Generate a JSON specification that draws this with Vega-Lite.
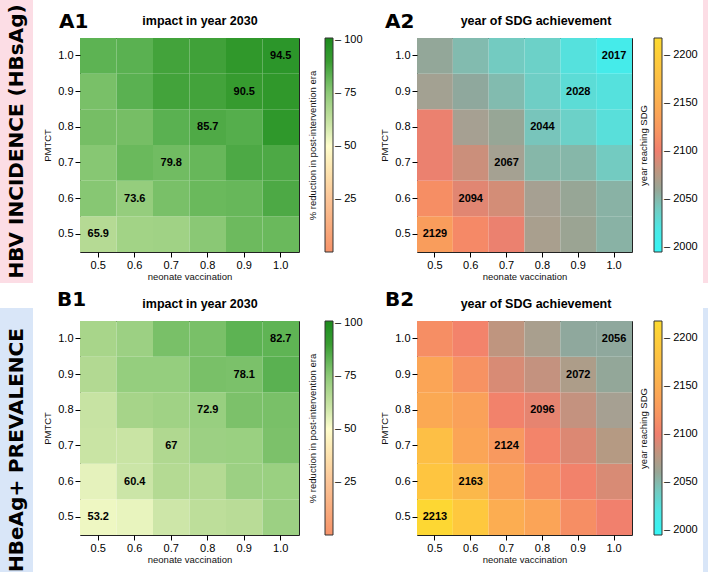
{
  "$schema": "https://vega.github.io/schema/vega-lite/v6.json",
  "padding": 0,
  "background": "white",
  "datasets": {
    "A1": [
      {"nv":"0.5","pm":"0.5","v":65.9,"lab":"65.9"},{"nv":"0.6","pm":"0.5","v":70.5},{"nv":"0.7","pm":"0.5","v":71},{"nv":"0.8","pm":"0.5","v":75.5},{"nv":"0.9","pm":"0.5","v":80.5},{"nv":"1.0","pm":"0.5","v":81},
      {"nv":"0.5","pm":"0.6","v":76},{"nv":"0.6","pm":"0.6","v":73.6,"lab":"73.6"},{"nv":"0.7","pm":"0.6","v":78.5},{"nv":"0.8","pm":"0.6","v":81},{"nv":"0.9","pm":"0.6","v":81.5},{"nv":"1.0","pm":"0.6","v":86},
      {"nv":"0.5","pm":"0.7","v":76},{"nv":"0.6","pm":"0.7","v":81},{"nv":"0.7","pm":"0.7","v":79.8,"lab":"79.8"},{"nv":"0.8","pm":"0.7","v":81.5},{"nv":"0.9","pm":"0.7","v":86},{"nv":"1.0","pm":"0.7","v":86},
      {"nv":"0.5","pm":"0.8","v":79},{"nv":"0.6","pm":"0.8","v":79},{"nv":"0.7","pm":"0.8","v":83.5},{"nv":"0.8","pm":"0.8","v":85.7,"lab":"85.7"},{"nv":"0.9","pm":"0.8","v":84.5},{"nv":"1.0","pm":"0.8","v":93},
      {"nv":"0.5","pm":"0.9","v":78.5},{"nv":"0.6","pm":"0.9","v":83.5},{"nv":"0.7","pm":"0.9","v":88},{"nv":"0.8","pm":"0.9","v":88},{"nv":"0.9","pm":"0.9","v":90.5,"lab":"90.5"},{"nv":"1.0","pm":"0.9","v":92.5},
      {"nv":"0.5","pm":"1.0","v":83},{"nv":"0.6","pm":"1.0","v":83.5},{"nv":"0.7","pm":"1.0","v":88},{"nv":"0.8","pm":"1.0","v":88.5},{"nv":"0.9","pm":"1.0","v":92.5},{"nv":"1.0","pm":"1.0","v":94.5,"lab":"94.5"}
    ],
    "B1": [
      {"nv":"0.5","pm":"0.5","v":53.2,"lab":"53.2"},{"nv":"0.6","pm":"0.5","v":54.5},{"nv":"0.7","pm":"0.5","v":60},{"nv":"0.8","pm":"0.5","v":64},{"nv":"0.9","pm":"0.5","v":65},{"nv":"1.0","pm":"0.5","v":72},
      {"nv":"0.5","pm":"0.6","v":55},{"nv":"0.6","pm":"0.6","v":60.4,"lab":"60.4"},{"nv":"0.7","pm":"0.6","v":66},{"nv":"0.8","pm":"0.6","v":66},{"nv":"0.9","pm":"0.6","v":72},{"nv":"1.0","pm":"0.6","v":72.5},
      {"nv":"0.5","pm":"0.7","v":61},{"nv":"0.6","pm":"0.7","v":61},{"nv":"0.7","pm":"0.7","v":67,"lab":"67"},{"nv":"0.8","pm":"0.7","v":72},{"nv":"0.9","pm":"0.7","v":72.5},{"nv":"1.0","pm":"0.7","v":78},
      {"nv":"0.5","pm":"0.8","v":61.5},{"nv":"0.6","pm":"0.8","v":69.5},{"nv":"0.7","pm":"0.8","v":71},{"nv":"0.8","pm":"0.8","v":72.9,"lab":"72.9"},{"nv":"0.9","pm":"0.8","v":78},{"nv":"1.0","pm":"0.8","v":78.5},
      {"nv":"0.5","pm":"0.9","v":66.5},{"nv":"0.6","pm":"0.9","v":73.5},{"nv":"0.7","pm":"0.9","v":73.5},{"nv":"0.8","pm":"0.9","v":78.5},{"nv":"0.9","pm":"0.9","v":78.1,"lab":"78.1"},{"nv":"1.0","pm":"0.9","v":83.5},
      {"nv":"0.5","pm":"1.0","v":69},{"nv":"0.6","pm":"1.0","v":72},{"nv":"0.7","pm":"1.0","v":78.5},{"nv":"0.8","pm":"1.0","v":78.5},{"nv":"0.9","pm":"1.0","v":83},{"nv":"1.0","pm":"1.0","v":82.7,"lab":"82.7"}
    ],
    "A2": [
      {"nv":"0.5","pm":"0.5","v":2129,"lab":"2129"},{"nv":"0.6","pm":"0.5","v":2110},{"nv":"0.7","pm":"0.5","v":2098},{"nv":"0.8","pm":"0.5","v":2070},{"nv":"0.9","pm":"0.5","v":2062},{"nv":"1.0","pm":"0.5","v":2052},
      {"nv":"0.5","pm":"0.6","v":2115},{"nv":"0.6","pm":"0.6","v":2094,"lab":"2094"},{"nv":"0.7","pm":"0.6","v":2088},{"nv":"0.8","pm":"0.6","v":2068},{"nv":"0.9","pm":"0.6","v":2060},{"nv":"1.0","pm":"0.6","v":2052},
      {"nv":"0.5","pm":"0.7","v":2098},{"nv":"0.6","pm":"0.7","v":2085},{"nv":"0.7","pm":"0.7","v":2067,"lab":"2067"},{"nv":"0.8","pm":"0.7","v":2050},{"nv":"0.9","pm":"0.7","v":2050},{"nv":"1.0","pm":"0.7","v":2040},
      {"nv":"0.5","pm":"0.8","v":2098},{"nv":"0.6","pm":"0.8","v":2068},{"nv":"0.7","pm":"0.8","v":2060},{"nv":"0.8","pm":"0.8","v":2044,"lab":"2044"},{"nv":"0.9","pm":"0.8","v":2036},{"nv":"1.0","pm":"0.8","v":2026},
      {"nv":"0.5","pm":"0.9","v":2066},{"nv":"0.6","pm":"0.9","v":2056},{"nv":"0.7","pm":"0.9","v":2048},{"nv":"0.8","pm":"0.9","v":2038},{"nv":"0.9","pm":"0.9","v":2028,"lab":"2028"},{"nv":"1.0","pm":"0.9","v":2024},
      {"nv":"0.5","pm":"1.0","v":2058},{"nv":"0.6","pm":"1.0","v":2048},{"nv":"0.7","pm":"1.0","v":2040},{"nv":"0.8","pm":"1.0","v":2036},{"nv":"0.9","pm":"1.0","v":2024},{"nv":"1.0","pm":"1.0","v":2017,"lab":"2017"}
    ],
    "B2": [
      {"nv":"0.5","pm":"0.5","v":2213,"lab":"2213"},{"nv":"0.6","pm":"0.5","v":2190},{"nv":"0.7","pm":"0.5","v":2150},{"nv":"0.8","pm":"0.5","v":2138},{"nv":"0.9","pm":"0.5","v":2115},{"nv":"1.0","pm":"0.5","v":2102},
      {"nv":"0.5","pm":"0.6","v":2185},{"nv":"0.6","pm":"0.6","v":2163,"lab":"2163"},{"nv":"0.7","pm":"0.6","v":2135},{"nv":"0.8","pm":"0.6","v":2116},{"nv":"0.9","pm":"0.6","v":2104},{"nv":"1.0","pm":"0.6","v":2090},
      {"nv":"0.5","pm":"0.7","v":2175},{"nv":"0.6","pm":"0.7","v":2140},{"nv":"0.7","pm":"0.7","v":2124,"lab":"2124"},{"nv":"0.8","pm":"0.7","v":2106},{"nv":"0.9","pm":"0.7","v":2092},{"nv":"1.0","pm":"0.7","v":2076},
      {"nv":"0.5","pm":"0.8","v":2145},{"nv":"0.6","pm":"0.8","v":2135},{"nv":"0.7","pm":"0.8","v":2104},{"nv":"0.8","pm":"0.8","v":2096,"lab":"2096"},{"nv":"0.9","pm":"0.8","v":2082},{"nv":"1.0","pm":"0.8","v":2068},
      {"nv":"0.5","pm":"0.9","v":2140},{"nv":"0.6","pm":"0.9","v":2118},{"nv":"0.7","pm":"0.9","v":2090},{"nv":"0.8","pm":"0.9","v":2082},{"nv":"0.9","pm":"0.9","v":2072,"lab":"2072"},{"nv":"1.0","pm":"0.9","v":2058},
      {"nv":"0.5","pm":"1.0","v":2115},{"nv":"0.6","pm":"1.0","v":2105},{"nv":"0.7","pm":"1.0","v":2080},{"nv":"0.8","pm":"1.0","v":2070},{"nv":"0.9","pm":"1.0","v":2056},{"nv":"1.0","pm":"1.0","v":2056,"lab":"2056"}
    ]
  },
  "spacing": 9,
  "resolve": {"scale": {"color": "independent"}},
  "hconcat": [
    {
      "spacing": 25,
      "vconcat": [
        {"width": 33, "height": 283, "view": {"fill": "#fcdde5", "stroke": null},
         "data": {"values": [{"t": "HBV INCIDENCE (HBsAg)"}]},
         "mark": {"type": "text", "angle": 270, "font": "DejaVu Sans", "fontSize": 20, "fontWeight": "bold", "align": "center", "baseline": "middle", "color": "#000"},
         "encoding": {"text": {"field": "t", "type": "nominal"}}},
        {"width": 33, "height": 264, "view": {"fill": "#d9e6f8", "stroke": null},
         "data": {"values": [{"t": "HBeAg+ PREVALENCE"}]},
         "mark": {"type": "text", "angle": 270, "font": "DejaVu Sans", "fontSize": 20, "fontWeight": "bold", "align": "center", "baseline": "middle", "color": "#000", "yOffset": 10},
         "encoding": {"text": {"field": "t", "type": "nominal"}}}
      ]
    },
    {
      "spacing": 4,
      "resolve": {"scale": {"color": "independent"}},
      "hconcat": [
        {
          "spacing": 10,
          "resolve": {"scale": {"color": "independent"}},
          "vconcat": [
            {"width": 1, "height": 1, "view": {"stroke": null},
             "data": {"values": [{"t": ""}]},
             "mark": {"type": "rect", "opacity": 0}, "encoding": {}},
            {
              "spacing": 8,
              "resolve": {"scale": {"color": "independent"}},
              "vconcat": [
                {
                  "spacing": 15,
                  "resolve": {"scale": {"color": "independent"}},
                  "hconcat": [
                    {
                      "width": 219, "height": 214,
                      "data": {"name": "A1"},
                      "title": {"text": "A1", "dx": -21, "offset": -18},
                      "layer": [
                        {"mark": "rect",
                         "encoding": {
                           "x": {"field": "nv", "type": "ordinal", "title": "neonate vaccination", "scale": {"paddingInner": 0, "paddingOuter": 0}, "axis": {"labelAngle": 0, "titlePadding": 1}},
                           "y": {"field": "pm", "type": "ordinal", "sort": "descending", "title": "PMTCT", "scale": {"paddingInner": 0, "paddingOuter": 0}, "axis": {"titlePadding": 5}},
                           "color": {"field": "v", "type": "quantitative",
                             "scale": {"domain": [0, 25, 50, 54, 60, 67, 73, 78, 83, 87, 91, 95, 101], "range": ["#f6926a", "#fbc497", "#fffdcc", "#eaf5c0", "#cde6a8", "#b0d890", "#98cf80", "#7cc16a", "#5db353", "#48a640", "#33992c", "#2b962a", "#1c8a1c"]},
                             "legend": {"values": [25, 50, 75, 100], "format": "d", "labelExpr": "'– ' + datum.label"}}
                         }},
                        {"transform": [{"filter": "isValid(datum.lab)"}],
                         "mark": {"type": "text", "font": "Liberation Sans", "fontWeight": "bold", "fontSize": 11, "color": "#000"},
                         "encoding": {
                           "x": {"field": "nv", "type": "ordinal", "axis": {"orient": "top", "title": "impact in year 2030", "labels": false, "ticks": false, "titleX": 119.5, "titleY": -14, "titleFontSize": 12.5, "titleFontWeight": "bold", "titleBaseline": "alphabetic", "titleAlign": "center", "titleColor": "#000"}},
                           "y": {"field": "pm", "type": "ordinal", "sort": "descending", "axis": {"orient": "right", "title": "% reduction in post-intervention era", "labels": false, "ticks": false, "titleAngle": 270, "titleBaseline": "top", "titlePadding": 8}},
                           "text": {"field": "lab", "type": "nominal"}
                         }}
                      ],
                      "resolve": {"axis": {"x": "independent", "y": "independent"}}
                    },
                    {
                      "width": 215, "height": 214,
                      "data": {"name": "A2"},
                      "title": {"text": "A2", "dx": -32, "offset": -18},
                      "layer": [
                        {"mark": "rect",
                         "encoding": {
                           "x": {"field": "nv", "type": "ordinal", "title": "neonate vaccination", "scale": {"paddingInner": 0, "paddingOuter": 0}, "axis": {"labelAngle": 0, "titlePadding": 1}},
                           "y": {"field": "pm", "type": "ordinal", "sort": "descending", "title": "PMTCT", "scale": {"paddingInner": 0, "paddingOuter": 0}, "axis": {"titlePadding": 5}},
                           "color": {"field": "v", "type": "quantitative",
                             "scale": {"domain": [1995, 2017, 2028, 2044, 2056, 2068, 2082, 2100, 2125, 2163, 2218], "range": ["#35f5f5", "#45ebea", "#5cdcd6", "#78c5bb", "#8fa89d", "#a6a092", "#c4927f", "#f07e6e", "#f89a5e", "#fbb84a", "#fdda30"]},
                             "legend": {"values": [2000, 2050, 2100, 2150, 2200], "format": "d", "labelExpr": "'– ' + datum.label", "offset": 6}}
                         }},
                        {"transform": [{"filter": "isValid(datum.lab)"}],
                         "mark": {"type": "text", "font": "Liberation Sans", "fontWeight": "bold", "fontSize": 11, "color": "#000"},
                         "encoding": {
                           "x": {"field": "nv", "type": "ordinal", "axis": {"orient": "top", "title": "year of SDG achievement", "labels": false, "ticks": false, "titleX": 118.5, "titleY": -14, "titleFontSize": 12.5, "titleFontWeight": "bold", "titleBaseline": "alphabetic", "titleAlign": "center", "titleColor": "#000"}},
                           "y": {"field": "pm", "type": "ordinal", "sort": "descending", "axis": {"orient": "right", "title": "year reaching SDG", "labels": false, "ticks": false, "titleAngle": 270, "titleBaseline": "top", "titlePadding": 6}},
                           "text": {"field": "lab", "type": "nominal"}
                         }}
                      ],
                      "resolve": {"axis": {"x": "independent", "y": "independent"}}
                    }
                  ]
                },
                {
                  "spacing": 15,
                  "resolve": {"scale": {"color": "independent"}},
                  "hconcat": [
                    {
                      "width": 219, "height": 214,
                      "data": {"name": "B1"},
                      "title": {"text": "B1", "dx": -23, "offset": -13},
                      "layer": [
                        {"mark": "rect",
                         "encoding": {
                           "x": {"field": "nv", "type": "ordinal", "title": "neonate vaccination", "scale": {"paddingInner": 0, "paddingOuter": 0}, "axis": {"labelAngle": 0, "titlePadding": 1}},
                           "y": {"field": "pm", "type": "ordinal", "sort": "descending", "title": "PMTCT", "scale": {"paddingInner": 0, "paddingOuter": 0}, "axis": {"titlePadding": 5}},
                           "color": {"field": "v", "type": "quantitative",
                             "scale": {"domain": [0, 25, 50, 54, 60, 67, 73, 78, 83, 87, 91, 95, 101], "range": ["#f6926a", "#fbc497", "#fffdcc", "#eaf5c0", "#cde6a8", "#b0d890", "#98cf80", "#7cc16a", "#5db353", "#48a640", "#33992c", "#2b962a", "#1c8a1c"]},
                             "legend": {"values": [25, 50, 75, 100], "format": "d", "labelExpr": "'– ' + datum.label"}}
                         }},
                        {"transform": [{"filter": "isValid(datum.lab)"}],
                         "mark": {"type": "text", "font": "Liberation Sans", "fontWeight": "bold", "fontSize": 11, "color": "#000"},
                         "encoding": {
                           "x": {"field": "nv", "type": "ordinal", "axis": {"orient": "top", "title": "impact in year 2030", "labels": false, "ticks": false, "titleX": 119.5, "titleY": -14, "titleFontSize": 12.5, "titleFontWeight": "bold", "titleBaseline": "alphabetic", "titleAlign": "center", "titleColor": "#000"}},
                           "y": {"field": "pm", "type": "ordinal", "sort": "descending", "axis": {"orient": "right", "title": "% reduction in post-intervention era", "labels": false, "ticks": false, "titleAngle": 270, "titleBaseline": "top", "titlePadding": 8}},
                           "text": {"field": "lab", "type": "nominal"}
                         }}
                      ],
                      "resolve": {"axis": {"x": "independent", "y": "independent"}}
                    },
                    {
                      "width": 215, "height": 214,
                      "data": {"name": "B2"},
                      "title": {"text": "B2", "dx": -32, "offset": -13},
                      "layer": [
                        {"mark": "rect",
                         "encoding": {
                           "x": {"field": "nv", "type": "ordinal", "title": "neonate vaccination", "scale": {"paddingInner": 0, "paddingOuter": 0}, "axis": {"labelAngle": 0, "titlePadding": 1}},
                           "y": {"field": "pm", "type": "ordinal", "sort": "descending", "title": "PMTCT", "scale": {"paddingInner": 0, "paddingOuter": 0}, "axis": {"titlePadding": 5}},
                           "color": {"field": "v", "type": "quantitative",
                             "scale": {"domain": [1995, 2017, 2028, 2044, 2056, 2068, 2082, 2100, 2125, 2163, 2218], "range": ["#35f5f5", "#45ebea", "#5cdcd6", "#78c5bb", "#8fa89d", "#a6a092", "#c4927f", "#f07e6e", "#f89a5e", "#fbb84a", "#fdda30"]},
                             "legend": {"values": [2000, 2050, 2100, 2150, 2200], "format": "d", "labelExpr": "'– ' + datum.label", "offset": 6}}
                         }},
                        {"transform": [{"filter": "isValid(datum.lab)"}],
                         "mark": {"type": "text", "font": "Liberation Sans", "fontWeight": "bold", "fontSize": 11, "color": "#000"},
                         "encoding": {
                           "x": {"field": "nv", "type": "ordinal", "axis": {"orient": "top", "title": "year of SDG achievement", "labels": false, "ticks": false, "titleX": 118.5, "titleY": -14, "titleFontSize": 12.5, "titleFontWeight": "bold", "titleBaseline": "alphabetic", "titleAlign": "center", "titleColor": "#000"}},
                           "y": {"field": "pm", "type": "ordinal", "sort": "descending", "axis": {"orient": "right", "title": "year reaching SDG", "labels": false, "ticks": false, "titleAngle": 270, "titleBaseline": "top", "titlePadding": 6}},
                           "text": {"field": "lab", "type": "nominal"}
                         }}
                      ],
                      "resolve": {"axis": {"x": "independent", "y": "independent"}}
                    }
                  ]
                }
              ]
            }
          ]
        },
        {
          "spacing": 25,
          "vconcat": [
            {"width": 8, "height": 283, "view": {"fill": "#fcdde5", "stroke": null},
             "data": {"values": [{"t": ""}]},
             "mark": {"type": "rect", "opacity": 0}, "encoding": {}},
            {"width": 8, "height": 264, "view": {"fill": "#d9e6f8", "stroke": null},
             "data": {"values": [{"t": ""}]},
             "mark": {"type": "rect", "opacity": 0}, "encoding": {}}
          ]
        }
      ]
    }
  ],
  "config": {
    "font": "Liberation Sans",
    "view": {"stroke": "#222", "strokeWidth": 1},
    "axis": {"labelFont": "Liberation Sans", "labelFontSize": 11, "labelColor": "#000", "titleFont": "Liberation Sans", "titleFontSize": 9.5, "titleFontWeight": "normal", "titleColor": "#111", "tickColor": "#000", "tickSize": 5, "domain": false, "grid": false, "labelPadding": 2},
    "legend": {"title": null, "orient": "right", "offset": 8, "direction": "vertical", "gradientLength": 214, "gradientThickness": 8, "gradientStrokeColor": "#333", "gradientStrokeWidth": 1, "labelFont": "Liberation Sans", "labelFontSize": 11, "labelColor": "#000", "labelOffset": 0, "labelOverlap": false, "padding": 0},
    "title": {"anchor": "start", "frame": "group", "font": "DejaVu Sans", "fontSize": 20, "fontWeight": "bold", "color": "#000", "baseline": "alphabetic"}
  }
}
